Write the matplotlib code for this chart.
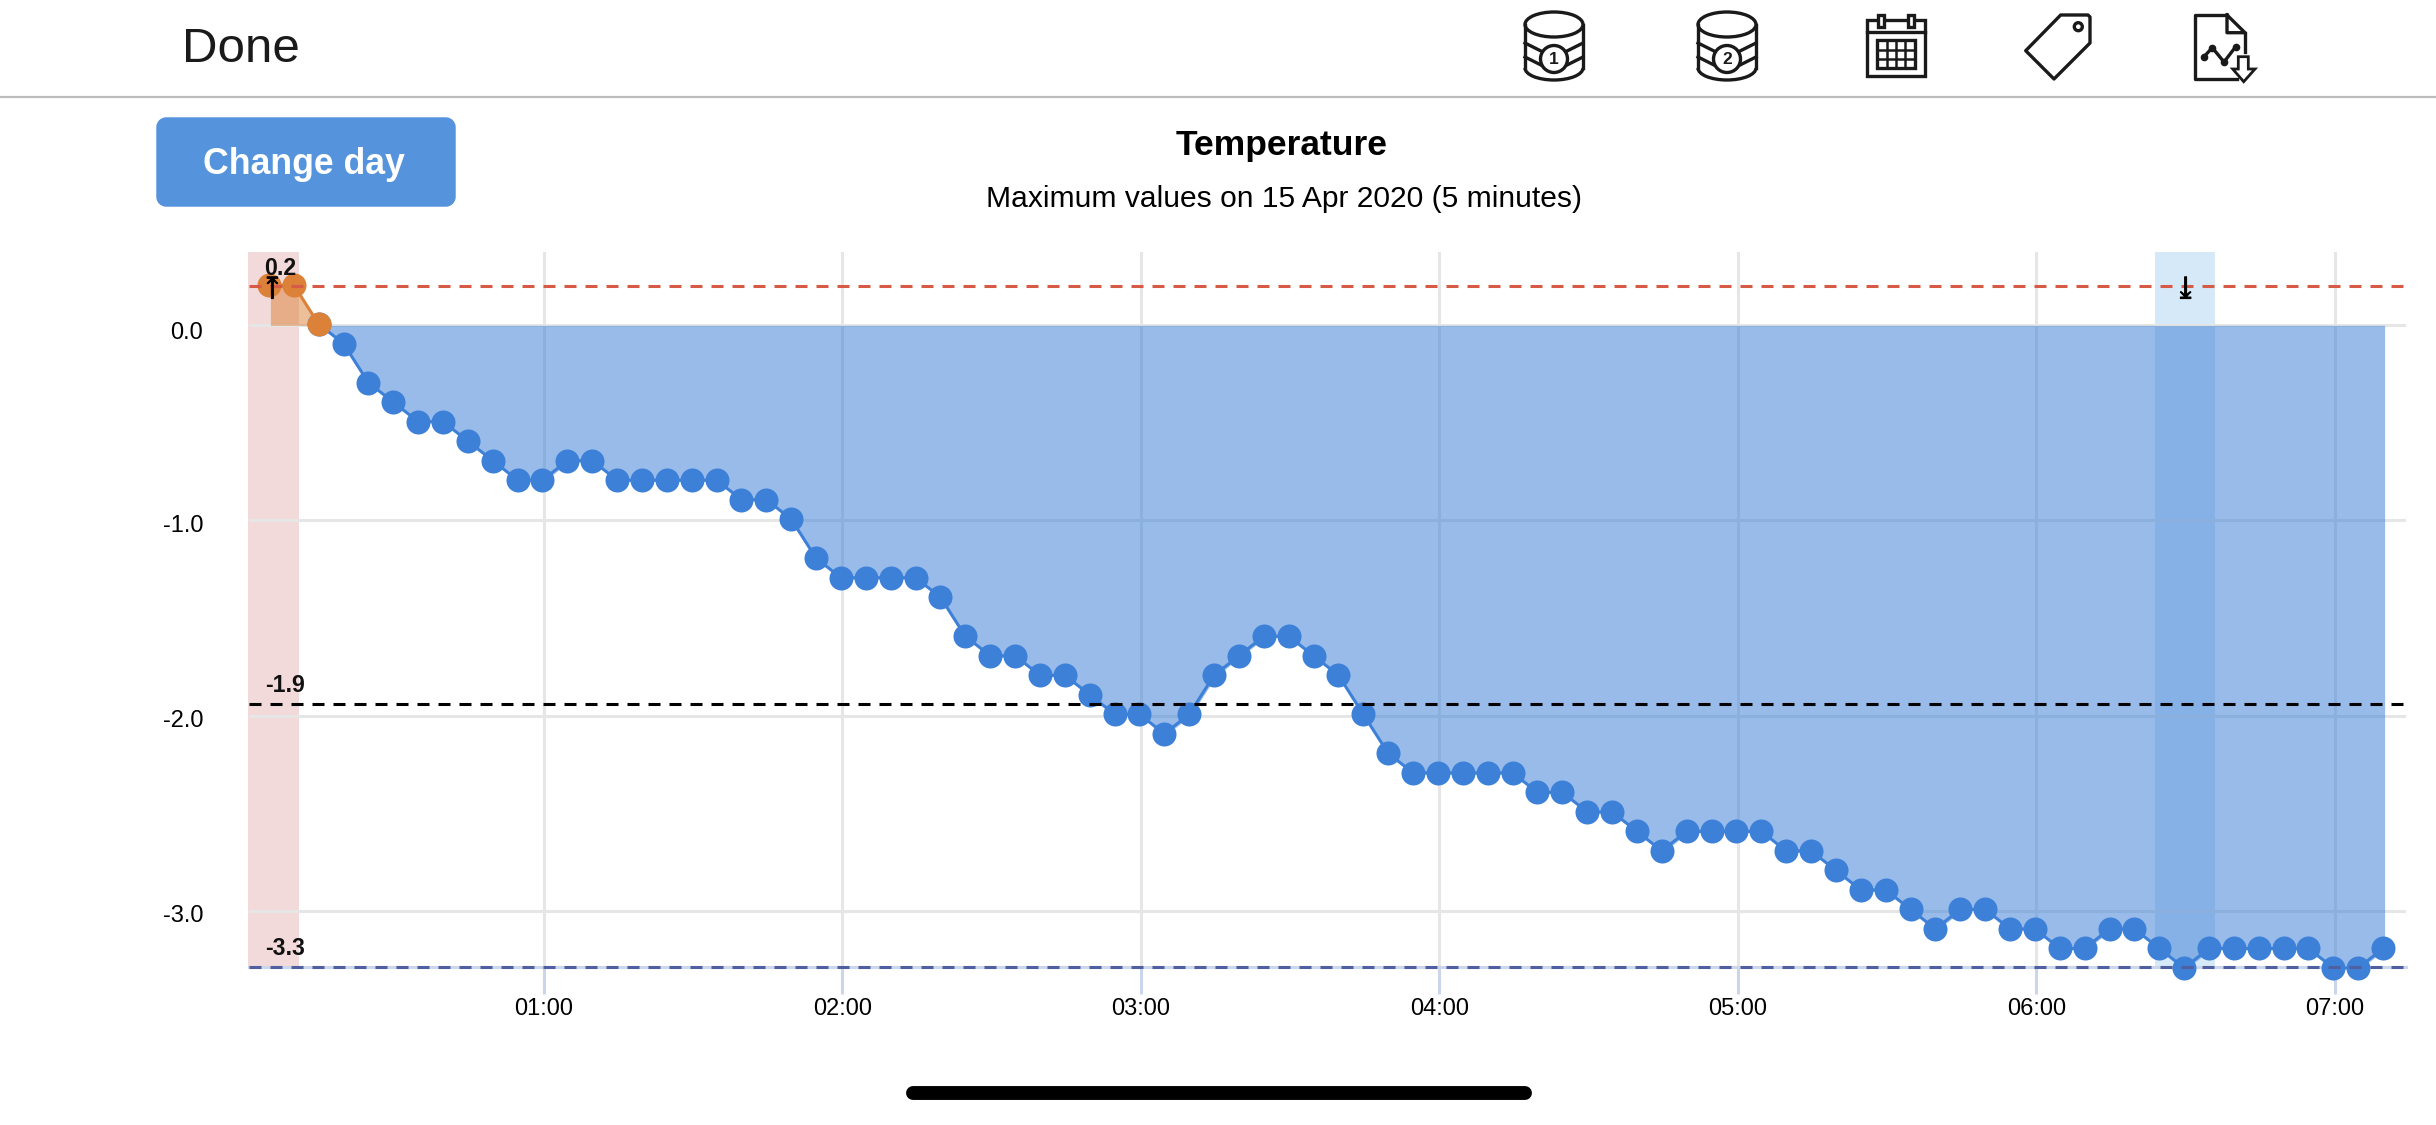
import matplotlib
matplotlib.use('Agg')
import matplotlib.pyplot as plt
import matplotlib.patheffects as path_effects
from matplotlib.patches import Arc, Ellipse, FancyBboxPatch, Polygon, Rectangle
from matplotlib.transforms import ScaledTranslation

plt.rcParams['font.family'] = ['Liberation Sans', 'DejaVu Sans']
plt.rcParams['lines.scale_dashes'] = False

minutes = [5, 10, 15, 20, 25, 30, 35, 40, 45, 50, 55, 60, 65, 70, 75, 80, 85, 90,
           95, 100, 105, 110, 115, 120, 125, 130, 135, 140, 145, 150, 155, 160,
           165, 170, 175, 180, 185, 190, 195, 200, 205, 210, 215, 220, 225, 230,
           235, 240, 245, 250, 255, 260, 265, 270, 275, 280, 285, 290, 295, 300,
           305, 310, 315, 320, 325, 330, 335, 340, 345, 350, 355, 360, 365, 370,
           375, 380, 385, 390, 395, 400, 405, 410, 415, 420, 425, 430]
temps = [0.2, 0.2, 0.0, -0.1, -0.3, -0.4, -0.5, -0.5, -0.6, -0.7, -0.8, -0.8,
         -0.7, -0.7, -0.8, -0.8, -0.8, -0.8, -0.8, -0.9, -0.9, -1.0, -1.2, -1.3,
         -1.3, -1.3, -1.3, -1.4, -1.6, -1.7, -1.7, -1.8, -1.8, -1.9, -2.0, -2.0,
         -2.1, -2.0, -1.8, -1.7, -1.6, -1.6, -1.7, -1.8, -2.0, -2.2, -2.3, -2.3,
         -2.3, -2.3, -2.3, -2.4, -2.4, -2.5, -2.5, -2.6, -2.7, -2.6, -2.6, -2.6,
         -2.6, -2.7, -2.7, -2.8, -2.9, -2.9, -3.0, -3.1, -3.0, -3.0, -3.1, -3.1,
         -3.2, -3.2, -3.1, -3.1, -3.2, -3.3, -3.2, -3.2, -3.2, -3.2, -3.2, -3.3,
         -3.3, -3.2]

max_value = 0.2
mean_value = -1.94
min_value = -3.29
max_minute = 5
min_minute = 390

y_ticks = [0, -1, -2, -3]
y_labels = ['0.0', '-1.0', '-2.0', '-3.0']
x_ticks = [60, 120, 180, 240, 300, 360, 420]
x_labels = ['01:00', '02:00', '03:00', '04:00', '05:00', '06:00', '07:00']

BLUE = '#3D80D8'
ORANGE = '#DB8138'
AXIS = '#CCD6EB'
GRID = '#E6E6E6'
DASH = (0, (8.64, 6.48))
W, H = 2436, 1125

fig = plt.figure(figsize=(W / 100, H / 100), dpi=100)
ax = fig.add_axes([249 / W, 1 - 967.3 / H, (2406 - 249) / W, (967.3 - 252) / H])
ax.set_xlim(0.7, 434.3)
ax.set_ylim(min_value, 0.376)

ax.grid(True, color=GRID, lw=2.2)
ax.set_axisbelow(True)
for name in ['top', 'left', 'right']:
    ax.spines[name].set_visible(False)
ax.spines['bottom'].set_color(AXIS)
ax.spines['bottom'].set_linewidth(2.2)

ax.set_xticks(x_ticks, x_labels)
ax.set_yticks(y_ticks, y_labels)
ax.tick_params(axis='x', length=19.4, width=2.2, color=AXIS, labelsize=17, pad=3)
ax.tick_params(axis='y', length=0, labelsize=17, pad=33)
# the labels sit a little under their gridlines, the top one more so
for label, drop in zip(ax.get_yticklabels(), [5, 3, 3, 3]):
    label.set_transform(label.get_transform() + ScaledTranslation(0, -drop / 100, fig.dpi_scale_trans))

# highlighted bands around the max and the min, under the gridlines
ax.axvspan(0.4, 10.7, color='#F3DADA', lw=0, zorder=0.2, clip_on=False)
ax.axvspan(383.8, 395.9, color='#D6E9F8', lw=0, zorder=0.2)

# area and line, split at the zero threshold
ax.fill_between(minutes[2:], temps[2:], 0, color=BLUE, alpha=0.53, lw=0, zorder=2)
ax.fill_between(minutes[:3], temps[:3], 0, color=ORANGE, alpha=0.5, lw=0, zorder=2)
nudge = ax.transData + ScaledTranslation(-1.5 / 100, 1.3 / 100, fig.dpi_scale_trans)
ax.plot(minutes[2:], temps[2:], color=BLUE, lw=2.2, marker='o', ms=17.3, mew=0, zorder=3,
        clip_on=False, transform=nudge)
ax.plot(minutes[:3], temps[:3], color=ORANGE, lw=2.2, marker='o', ms=17.3, mew=0, zorder=4,
        clip_on=False, transform=nudge)

ax.axhline(max_value, color='#D65A45', lw=2.2, ls=DASH, zorder=5)
ax.axhline(mean_value, color='black', lw=2.2, ls=DASH, zorder=5)
ax.axhline(min_value, color='#4F5FA0', lw=2.2, ls=DASH, zorder=5, clip_on=False)

bold = dict(fontsize=16.7, fontweight='bold', ha='center', va='center',
            textcoords='offset pixels', color='#111111', zorder=6)
ax.annotate('0.2', (max_minute, max_value), xytext=(10, 18), **bold)
ax.annotate('-1.9', (max_minute, mean_value), xytext=(15, 18), **bold)
ax.annotate('-3.3', (max_minute, min_value), xytext=(15, 19), annotation_clip=False, **bold)
# the bold STIX face has no such arrows, so thicken the regular one
thick = [path_effects.withStroke(linewidth=0.9, foreground='black')]
ax.annotate('⤒', (max_minute, max_value), xytext=(2, -2), textcoords='offset pixels',
            fontsize=19, ha='center', va='center', color='black',
            family=['STIXGeneral', 'DejaVu Sans'], zorder=6, path_effects=thick)
ax.annotate('⤓', (min_minute, max_value), xytext=(0, -2), textcoords='offset pixels',
            fontsize=19, ha='center', va='center', color='black',
            family=['STIXGeneral', 'DejaVu Sans'], zorder=6, path_effects=thick)

# app chrome and titles, drawn in pixel coordinates
ui = fig.add_axes([0, 0, 1, 1], zorder=10)
ui.set_xlim(0, W)
ui.set_ylim(H, 0)
ui.axis('off')
ui.patch.set_alpha(0)

ui.text(182, 49, 'Done', fontsize=35.5, color='#1A1A1A', ha='left', va='center')
ui.plot([0, W], [96.5, 96.5], color='#BDBDBD', lw=1.6)

ui.add_patch(FancyBboxPatch((166, 127), 280, 70, boxstyle='round,pad=0,rounding_size=0.1',
                            fc='#5594DC', ec='#5594DC', lw=14, joinstyle='round'))
ui.text(304, 164, 'Change day', fontsize=25.7, fontweight='bold', color='white',
        ha='center', va='center')
ui.text(1282, 146, 'Temperature', fontsize=25.5, fontweight='bold', color='black',
        ha='center', va='center')
ui.text(1284, 199, 'Maximum values on 15 Apr 2020 (5 minutes)', fontsize=21.6,
        color='black', ha='center', va='center')

ui.plot([913, 1525], [1093, 1093], color='black', lw=10, solid_capstyle='round')

INK = '#1A1A1A'
ICON_LW = 2.4


def database_icon(cx, number):
    ui.add_patch(Ellipse((cx, 24.5), 58, 25, fc='none', ec=INK, lw=ICON_LW))
    ui.plot([cx - 29, cx - 29], [24.5, 68], color=INK, lw=ICON_LW)
    ui.plot([cx + 29, cx + 29], [24.5, 68], color=INK, lw=ICON_LW)
    ui.add_patch(Arc((cx, 68), 58, 24, theta1=0, theta2=180, ec=INK, lw=ICON_LW))
    for y in [43, 57]:
        ui.plot([cx - 29, cx - 12], [y, y + 8.5], color=INK, lw=ICON_LW)
        ui.plot([cx + 29, cx + 12], [y, y + 8.5], color=INK, lw=ICON_LW)
    ui.add_patch(Ellipse((cx, 59), 27, 27, fc='white', ec=INK, lw=ICON_LW, zorder=3))
    ui.text(cx, 59, number, fontsize=12.5, fontweight='bold', color=INK, ha='center',
            va='center', zorder=4)


def calendar_icon():
    ui.add_patch(Rectangle((1867, 20), 58, 56, fc='none', ec=INK, lw=ICON_LW))
    ui.plot([1867, 1925], [32, 32], color=INK, lw=ICON_LW)
    for x in [1881, 1911]:
        ui.add_patch(Rectangle((x - 3, 15), 6, 12, fc='white', ec=INK, lw=ICON_LW, zorder=3))
    ui.add_patch(Rectangle((1877, 40), 38, 28, fc='none', ec=INK, lw=ICON_LW))
    for x in [1887, 1896, 1905]:
        ui.plot([x, x], [40, 68], color=INK, lw=1.8)
    for y in [50, 59]:
        ui.plot([1877, 1915], [y, y], color=INK, lw=1.8)


def tag_icon():
    ui.add_patch(Polygon([(2060.7, 15), (2088, 15), (2090, 17), (2090, 43), (2054, 79),
                          (2025.7, 50.7)], closed=True, fc='none', ec=INK,
                         lw=ICON_LW, joinstyle='round'))
    ui.add_patch(Ellipse((2078.3, 26.7), 8, 8, fc='none', ec=INK, lw=ICON_LW))


def file_icon():
    ui.plot([2237, 2195, 2195, 2227], [79, 79, 15, 15], color=INK, lw=ICON_LW)
    ui.plot([2227, 2227, 2245, 2227], [15, 32.7, 32.7, 15], color=INK, lw=ICON_LW)
    ui.plot([2245, 2245], [33, 52], color=INK, lw=ICON_LW)
    ui.plot([2204, 2212.3, 2224, 2235.7], [56.7, 47.7, 62, 46.7], color=INK, lw=ICON_LW,
            marker='o', ms=4.5)
    ui.add_patch(Polygon([(2238.3, 56.7), (2248.3, 56.7), (2248.3, 69), (2255, 69),
                          (2243.7, 81.7), (2232.7, 69), (2238.3, 69)], closed=True,
                         fc='white', ec=INK, lw=2))


database_icon(1554, '1')
database_icon(1727, '2')
calendar_icon()
tag_icon()
file_icon()

fig.savefig('out.png', dpi=100)
